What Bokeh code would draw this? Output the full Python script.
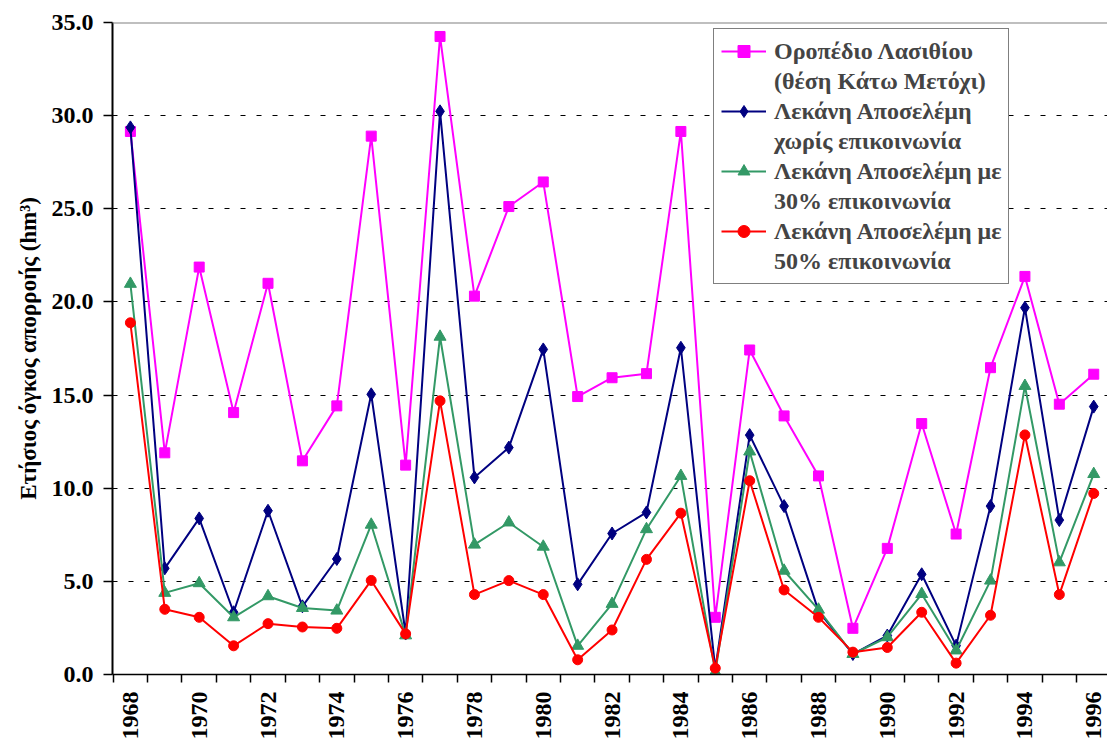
import numpy as np
from bokeh.plotting import figure
from bokeh.models import (FixedTicker, PrintfTickFormatter, Range1d, Span,
                          Legend, LegendItem)
from bokeh.embed import file_html
from bokeh.resources import INLINE

years = list(range(1968, 1997))
lasithi = [29.15, 11.9, 21.87, 14.06, 21.0, 11.47, 14.42, 28.9, 11.24, 34.25,
           20.31, 25.12, 26.44, 14.92, 15.93, 16.15, 29.15, 3.07, 17.42, 13.88,
           10.66, 2.48, 6.77, 13.47, 7.54, 16.47, 21.37, 14.51, 16.12]
no_comm = [29.37, 5.7, 8.38, 3.34, 8.79, 3.66, 6.2, 15.04, 2.2, 30.23,
           10.58, 12.18, 17.45, 4.84, 7.57, 8.7, 17.54, 0.3, 12.85, 9.04,
           3.4, 1.1, 2.09, 5.38, 1.55, 9.04, 19.69, 8.29, 14.38]
comm30 = [20.97, 4.38, 4.9, 3.07, 4.2, 3.57, 3.43, 8.04, 2.1, 18.13,
          6.97, 8.16, 6.86, 1.54, 3.79, 7.8, 10.66, 0.12, 11.97, 5.57,
          3.48, 1.1, 2.0, 4.32, 1.29, 5.04, 15.49, 6.02, 10.76]
comm50 = [18.88, 3.5, 3.07, 1.54, 2.73, 2.55, 2.48, 5.05, 2.18, 14.69,
          4.29, 5.04, 4.29, 0.79, 2.39, 6.18, 8.66, 0.34, 10.4, 4.54,
          3.07, 1.2, 1.45, 3.34, 0.61, 3.18, 12.86, 4.29, 9.72]

x_labels = list(range(1968, 1997, 2))
y_ticks = [0, 5, 10, 15, 20, 25, 30, 35]
grid_ticks = [5, 10, 15, 20, 25, 30]

series = [
    (lasithi, "#FF00FF", "square", 10, ["Οροπέδιο Λασιθίου", "(θέση Κάτω Μετόχι)"]),
    (no_comm, "#000080", "diamond", 13, ["Λεκάνη Αποσελέμη", "χωρίς επικοινωνία"]),
    (comm30, "#339966", "triangle", 12, ["Λεκάνη Αποσελέμη με", "30% επικοινωνία"]),
    (comm50, "#FF0000", "circle", 10, ["Λεκάνη Αποσελέμη με", "50% επικοινωνία"]),
]

FONT = "'Liberation Serif', 'Times New Roman', serif"

p = figure(width=1107, height=742, output_backend="svg", toolbar_location=None,
           x_range=Range1d(1967.48, 1996.4), y_range=Range1d(0, 35),
           min_border_left=112, min_border_right=0, min_border_top=22,
           min_border_bottom=68)
p.outline_line_color = None
p.background_fill_color = "white"
p.border_fill_color = "white"

items = []
for vals, color, marker, size, labels in series:
    r_line = p.line(years, vals, line_color=color, line_width=2)
    r_pts = p.scatter(years, vals, marker=marker, size=size,
                      fill_color=color, line_color=color)
    dummy = p.line(x=[], y=[], line_alpha=0)
    items.append(LegendItem(label=labels[0], renderers=[r_line, r_pts]))
    items.append(LegendItem(label=labels[1], renderers=[dummy]))

legend = Legend(items=items, location=(601, 390))
legend.label_text_font = FONT
legend.label_text_font_style = "bold"
legend.label_text_font_size = "24px"
legend.label_height = 30
legend.glyph_height = 30
legend.glyph_width = 45
legend.label_standoff = 8
legend.spacing = 0
legend.padding = 7
legend.margin = 0
legend.border_line_color = "black"
legend.border_line_width = 1
legend.background_fill_color = "white"
legend.background_fill_alpha = 1
p.add_layout(legend, "center")

# grid
p.xgrid.grid_line_color = None
p.ygrid.ticker = FixedTicker(ticks=grid_ticks)
p.ygrid.grid_line_color = "black"
p.ygrid.grid_line_dash = "5 11"
p.ygrid.grid_line_width = 1

p.add_layout(Span(location=35, dimension="width", line_color="#808080", line_width=2))

# y axis
p.yaxis.ticker = FixedTicker(ticks=y_ticks)
p.yaxis.formatter = PrintfTickFormatter(format="%.1f")
p.yaxis.major_label_text_font = FONT
p.yaxis.major_label_text_font_style = "bold"
p.yaxis.major_label_text_font_size = "24px"
p.yaxis.major_label_text_color = "black"
p.yaxis.major_tick_out = 9
p.yaxis.major_tick_in = 0
p.yaxis.minor_tick_line_color = None
p.yaxis.major_tick_line_color = "black"
p.yaxis.major_tick_line_width = 1.5
p.yaxis.axis_line_color = "black"
p.yaxis.axis_line_width = 2
p.yaxis.major_label_standoff = 10
p.yaxis.axis_label = "Ετήσιος όγκος απορροής (hm³)"
p.yaxis.axis_label_text_font = FONT
p.yaxis.axis_label_text_font_style = "bold"
p.yaxis.axis_label_text_font_size = "23px"
p.yaxis.axis_label_text_color = "black"
p.yaxis.axis_label_standoff = 8

# x axis
p.xaxis.ticker = FixedTicker(ticks=x_labels, minor_ticks=[y + 0.5 for y in years[:-1]] + [1967.5])
p.xaxis.major_label_orientation = np.pi / 2
p.xaxis.major_label_text_font = FONT
p.xaxis.major_label_text_font_style = "bold"
p.xaxis.major_label_text_font_size = "24px"
p.xaxis.major_label_text_color = "black"
p.xaxis.major_tick_out = 0
p.xaxis.major_tick_in = 0
p.xaxis.major_tick_line_color = None
p.xaxis.minor_tick_out = 8
p.xaxis.minor_tick_in = 0
p.xaxis.minor_tick_line_color = "black"
p.xaxis.minor_tick_line_width = 1.5
p.xaxis.axis_line_color = "black"
p.xaxis.axis_line_width = 1.5
p.xaxis.major_label_standoff = 9

open("out.html", "w").write(file_html(p, INLINE))
